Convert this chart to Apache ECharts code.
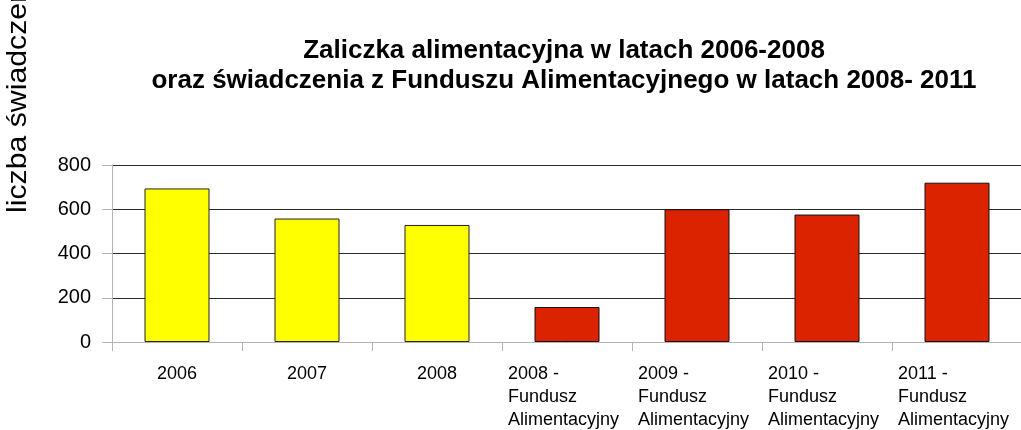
<!DOCTYPE html>
<html>
<head>
<meta charset="utf-8">
<script src="https://cdn.jsdelivr.net/npm/echarts@6/dist/echarts.min.js"></script>
<style>
html,body{margin:0;padding:0;background:#fff;}
#chart{width:1021px;height:430px;}
</style>
</head>
<body>
<div id="chart"></div>
<script>
const titleLines = ['Zaliczka alimentacyjna w latach 2006-2008', 'oraz świadczenia z Funduszu Alimentacyjnego w latach 2008- 2011'];
const yAxisName = 'liczba świadczeń';
const categories = ['2006', '2007', '2008', '2008 -\nFundusz\nAlimentacyjny', '2009 -\nFundusz\nAlimentacyjny', '2010 -\nFundusz\nAlimentacyjny', '2011 -\nFundusz\nAlimentacyjny'];
const zaliczkaValues = [694, 558, 529, null, null, null, null];
const funduszValues = [null, null, null, 158, 600, 576, 720];
const yTicks = [0, 200, 400, 600, 800];

const chart = echarts.init(document.getElementById('chart'), null, {renderer: 'canvas'});
const FONT = 'Liberation Sans, Arial, sans-serif';
chart.setOption({
  animation: false,
  backgroundColor: '#ffffff',
  title: {
    text: titleLines.join('\n'),
    left: 559,
    top: 31,
    textAlign: 'center',
    textStyle: {fontFamily: FONT, fontSize: 26, fontWeight: 'bold', color: '#000', lineHeight: 30}
  },
  graphic: [{
    type: 'text',
    x: 32,
    y: 213,
    rotation: Math.PI / 2,
    scaleX: 1.12,
    style: {text: yAxisName, font: '27px ' + FONT, fill: '#000', textAlign: 'left', textVerticalAlign: 'bottom'}
  }],
  grid: {left: 112, top: 165, width: 910, height: 177, containLabel: false, outerBoundsMode: 'none'},
  xAxis: {
    type: 'category',
    data: categories,
    axisLine: {lineStyle: {color: '#b3b3b3', width: 1}},
    axisTick: {show: true, length: 9, lineStyle: {color: '#b3b3b3'}},
    axisLabel: {
      interval: 0,
      margin: 21,
      color: '#000',
      fontFamily: FONT,
      fontSize: 18,
      lineHeight: 23,
      formatter: function (v) {
        const lines = v.split('\n');
        if (lines.length === 1) return '{s|' + v + '}';
        return lines.map(l => '{m|' + l + '}').join('\n');
      },
      rich: {
        s: {fontFamily: FONT, fontSize: 18, lineHeight: 23, color: '#000'},
        m: {fontFamily: FONT, fontSize: 18, lineHeight: 23, color: '#000', width: 118, align: 'left'}
      }
    },
    splitLine: {show: false}
  },
  yAxis: {
    type: 'value',
    min: yTicks[0],
    max: yTicks[yTicks.length - 1],
    interval: 200,
    axisLine: {show: true, lineStyle: {color: '#b3b3b3'}},
    axisTick: {show: true, length: 10, lineStyle: {color: '#b3b3b3'}},
    axisLabel: {margin: 21, color: '#000', fontFamily: FONT, fontSize: 20},
    splitLine: {show: true, lineStyle: {color: '#2a2a2a', width: 1}}
  },
  series: [{
    name: 'Zaliczka alimentacyjna',
    type: 'bar',
    stack: 'all',
    data: zaliczkaValues,
    barWidth: '50%',
    itemStyle: {color: '#ffff00', borderColor: '#222', borderWidth: 1}
  }, {
    name: 'Fundusz Alimentacyjny',
    type: 'bar',
    stack: 'all',
    data: funduszValues,
    barWidth: '50%',
    itemStyle: {color: '#dc2300', borderColor: '#111', borderWidth: 1}
  }]
});
</script>
</body>
</html>
